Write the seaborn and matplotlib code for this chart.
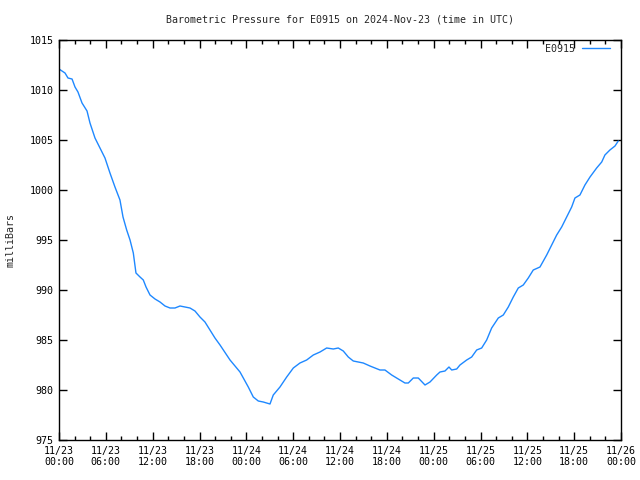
import matplotlib
matplotlib.use("Agg")
import matplotlib.pyplot as plt
import matplotlib.dates as mdates
import seaborn as sns
import pandas as pd
import numpy as np

# hours since 2024-11-23 00:00 UTC
hours = [0.0, 0.77, 1.15, 1.67, 2.05, 2.43, 2.95, 3.59, 3.97, 4.61, 5.25, 5.89, 6.53, 7.17,
         7.81, 8.20, 8.67, 9.10, 9.52, 9.86, 10.38, 10.80, 11.15, 11.66, 12.30, 12.94, 13.58,
         14.22, 14.86, 15.50, 16.14, 16.78, 17.42, 18.06, 18.70, 19.34, 19.98, 20.63, 21.91,
         23.19, 24.25, 24.89, 25.53, 26.17, 27.03, 27.45, 28.31, 29.17, 30.02, 30.87, 31.73,
         32.58, 33.44, 34.29, 35.14, 35.78, 36.42, 37.06, 37.70, 38.98, 39.84, 41.12, 41.76,
         42.62, 43.68, 44.32, 44.75, 45.39, 46.03, 46.89, 47.53, 48.39, 48.81, 49.45, 49.96,
         50.31, 50.95, 51.37, 52.23, 52.87, 53.51, 54.15, 54.79, 55.43, 56.28, 56.92, 57.56,
         58.20, 58.84, 59.48, 60.12, 60.76, 61.62, 62.48, 63.12, 63.76, 64.40, 65.04, 65.68,
         66.10, 66.74, 67.38, 68.03, 68.88, 69.53, 69.94, 70.58, 71.23, 71.65]
pressure = [1012.1, 1011.7, 1011.2, 1011.1, 1010.3, 1009.8, 1008.7, 1007.9, 1006.7, 1005.2,
            1004.2, 1003.2, 1001.7, 1000.3, 999.0, 997.3, 996.0, 995.0, 993.7, 991.7, 991.3,
            991.0, 990.3, 989.5, 989.1, 988.8, 988.4, 988.2, 988.2, 988.4, 988.3, 988.2, 987.9,
            987.3, 986.8, 986.0, 985.2, 984.5, 983.0, 981.8, 980.3, 979.3, 978.9, 978.8, 978.6,
            979.5, 980.3, 981.3, 982.2, 982.7, 983.0, 983.5, 983.8, 984.2, 984.1, 984.2, 983.9,
            983.3, 982.9, 982.7, 982.4, 982.0, 982.0, 981.5, 981.0, 980.7, 980.7, 981.2, 981.2,
            980.5, 980.8, 981.5, 981.8, 981.9, 982.3, 982.0, 982.1, 982.5, 983.0, 983.3, 984.0,
            984.2, 985.0, 986.2, 987.2, 987.5, 988.3, 989.3, 990.2, 990.5, 991.2, 992.0, 992.3,
            993.5, 994.5, 995.5, 996.3, 997.3, 998.3, 999.2, 999.5, 1000.5, 1001.3, 1002.2,
            1002.8, 1003.5, 1004.0, 1004.4, 1004.9]
station = "E0915"
title = "Barometric Pressure for E0915 on 2024-Nov-23 (time in UTC)"
ylabel = "milliBars"

start = pd.Timestamp("2024-11-23 00:00")
df = pd.DataFrame({
    "time": start + pd.to_timedelta(hours, unit="h"),
    "pressure": pressure,
    "station": station,
})

sns.set_style("ticks")
plt.rcParams["font.family"] = ["DejaVu Sans Mono"]
plt.rcParams["font.size"] = 7.2

fig = plt.figure(figsize=(6.4, 4.8), dpi=100)
ax = fig.add_axes([59/640, 40/480, 562/640, 400/480])

sns.lineplot(data=df, x="time", y="pressure", hue="station",
             palette=["#1e88ff"], linewidth=1.0, ax=ax)

ax.set_xlim(start, start + pd.Timedelta(hours=72))
ax.set_ylim(975, 1015)
ax.set_yticks(np.arange(975, 1016, 5))
ax.xaxis.set_major_locator(mdates.HourLocator(byhour=[0, 6, 12, 18]))
ax.xaxis.set_minor_locator(mdates.HourLocator(interval=2))
ax.xaxis.set_major_formatter(mdates.DateFormatter("%m/%d\n%H:%M"))

ax.tick_params(axis="both", which="both", direction="in", top=True, right=True,
               labelsize=7.2, width=1, colors="black")
ax.tick_params(axis="both", which="major", length=6, pad=4)
ax.tick_params(axis="x", which="minor", length=3)
for s in ax.spines.values():
    s.set_linewidth(1)
    s.set_color("black")

ax.set_xlabel("")
ax.set_ylabel(ylabel, fontsize=7.2, labelpad=10)
fig.text(340/640, 1 - 19/480, title, ha="center", va="center", fontsize=7.2)

ax.legend(loc="upper right", frameon=False, markerfirst=False, handlelength=2.8,
          handletextpad=0.7, fontsize=7.2, borderaxespad=0.3,
          bbox_to_anchor=(1 - 4/562, 1 + 3/400))

fig.savefig("out.png", dpi=100)
